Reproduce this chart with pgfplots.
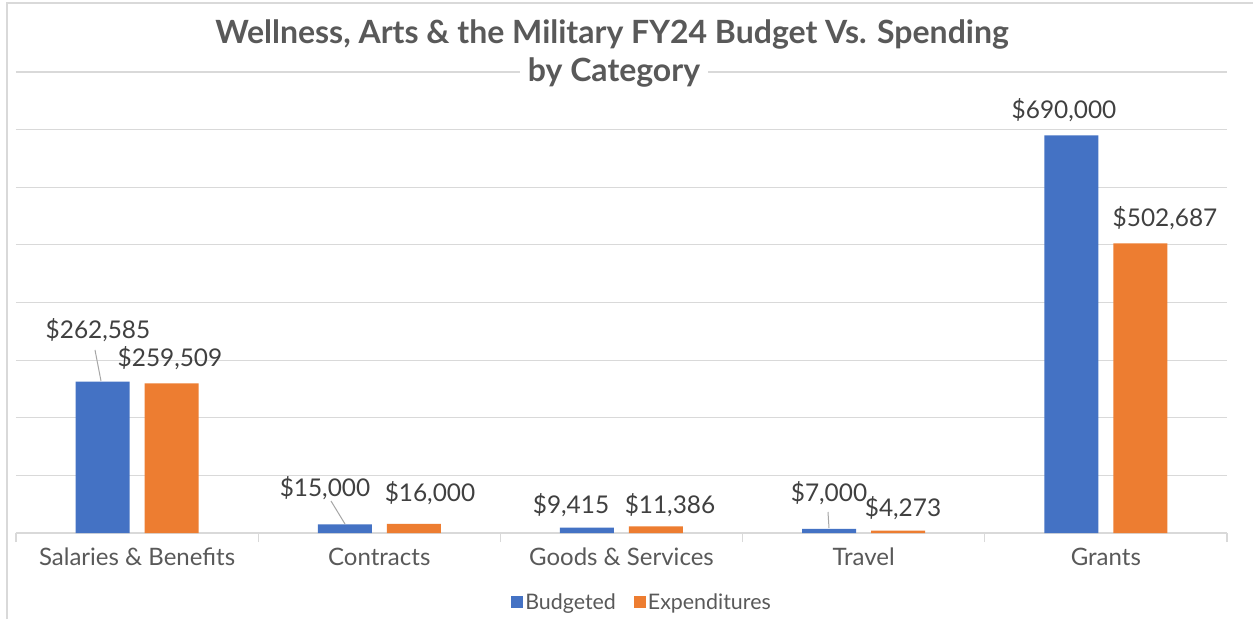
\documentclass[border=0pt]{standalone}
\usepackage{pgfplots}
\pgfplotsset{compat=1.18}
\usepackage{fontspec}
\setmainfont{Lato}
\definecolor{BarBlue}{HTML}{4472C4}
\definecolor{BarOrange}{HTML}{ED7D31}
\definecolor{GridGray}{HTML}{D9D9D9}
\definecolor{TextGray}{HTML}{595959}
\definecolor{LabelGray}{HTML}{404040}

\begin{document}
\begin{tikzpicture}[x=1pt,y=1pt]
% canvas, 1 px of the reference = 1 pt
\useasboundingbox (0,0) rectangle (1253,619);
\path[fill=white] (0,0) rectangle (1253,619);
\draw[GridGray, line width=1.5pt] (7,0) -- (7,616) -- (1253,616);

\begin{axis}[
    at={(16pt,86pt)}, anchor=south west,
    scale only axis, width=1211pt, height=461pt,
    ybar=15pt, bar width=54pt,
    xmin=-0.5, xmax=4.5, ymin=0, ymax=800000,
    ytick={0,100000,...,800000}, yticklabels={}, scaled y ticks=false,
    major y tick style={draw=none},
    ymajorgrids, grid style={GridGray, line width=1.2pt},
    axis x line*=bottom, axis y line*=left,
    y axis line style={draw=none},
    x axis line style={GridGray, line width=1.2pt, -},
    xtick={0,1,2,3,4},
    xticklabels={Salaries \& Benefits, Contracts, Goods \& Services, Travel, Grants},
    major x tick style={draw=none},
    minor xtick={-0.5,0.5,1.5,2.5,3.5,4.5},
    minor x tick style={GridGray, line width=1.2pt},
    minor tick length=9pt, tick align=outside,
    xticklabel style={font=\fontsize{24}{28}\selectfont, text=TextGray, yshift=-7pt},
    legend style={at={(0.517,-0.1497)}, anchor=center, draw=none, legend columns=2,
        font=\fontsize{21.4}{25}\selectfont, text=TextGray, fill=none,
        /tikz/every even column/.append style={column sep=16pt}},
    legend image code/.code={\fill[#1] (0pt,-6pt) rectangle (12pt,6pt);},
]
\addplot[fill=BarBlue, draw=none] coordinates {(0,262585) (1,15000) (2,9415) (3,7000) (4,690000)};
\addlegendentry{Budgeted}
\addplot[fill=BarOrange, draw=none] coordinates {(0,259509) (1,16000) (2,11386) (3,4273) (4,502687)};
\addlegendentry{Expenditures}
\end{axis}

% leader lines
\draw[gray!70, line width=1pt] (95,619-350) -- (101,619-381);
\draw[gray!70, line width=1pt] (331,619-501) -- (345,619-524);
\draw[gray!70, line width=1pt] (828,619-512) -- (829,619-528);

% data labels
\begin{scope}[every node/.style={font=\fontsize{24.4}{28}\selectfont, text=LabelGray, inner sep=0pt}]
\node at (98,619-330) {\$262,585};
\node at (170,619-358) {\$259,509};
\node at (325,619-488) {\$15,000};
\node at (430,619-493) {\$16,000};
\node at (571,619-505) {\$9,415};
\node at (670,619-505) {\$11,386};
\node at (829,619-493) {\$7,000};
\node at (903,619-508) {\$4,273};
\node at (1064,619-110) {\$690,000};
\node at (1165,619-218) {\$502,687};
\end{scope}

% title, second line covers the top grid line
\node[font=\fontsize{32}{38}\selectfont\bfseries, text=TextGray]
  at (612,619-35) {Wellness, Arts \& the Military FY24 Budget Vs. Spending};
\node[fill=white, font=\fontsize{32}{38}\selectfont\bfseries, text=TextGray, inner xsep=8pt, inner ysep=2pt]
  at (614,619-73) {by Category};
\end{tikzpicture}
\end{document}
